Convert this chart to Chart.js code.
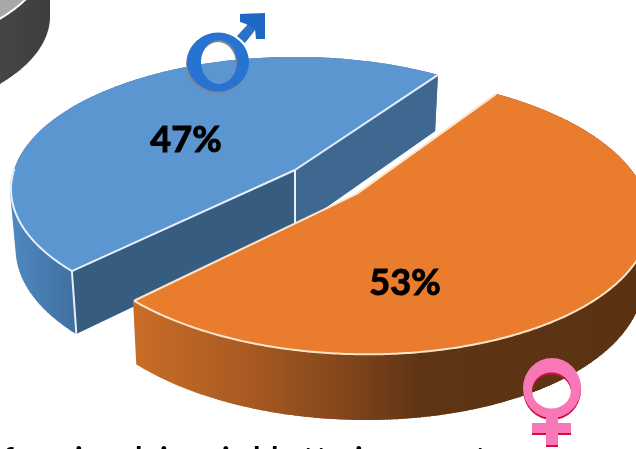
<!DOCTYPE html>
<html>
<head>
<meta charset="utf-8">
<title>Gender split</title>
<script src="https://cdn.jsdelivr.net/npm/chart.js@4"></script>
<style>
    html, body { margin: 0; padding: 0; background: #fff; overflow: hidden; }
    #wrap { position: relative; width: 636px; height: 449px; overflow: hidden; }
    canvas { position: absolute; left: 0; top: 0; }
    svg { position: absolute; left: 0; top: 0; }
</style>
</head>
<body>
<div id="wrap">
    <canvas id="otherPie" width="636" height="449"></canvas>
    <canvas id="genderPie" width="636" height="449"></canvas>
    <svg width="636" height="449" viewBox="0 0 636 449">
        <defs>
            <path id="maleRing" fill-rule="evenodd" d="M187 62a31 29.500 0 1 0 62 0a31 29.500 0 1 0 -62 0zM201 62a18 22 0 1 1 36 0a18 22 0 1 1 -36 0z"/>
            <path id="femaleRing" fill-rule="evenodd" d="M523 388a29 30 0 1 0 58 0a29 30 0 1 0 -58 0zM532 390.500a19.500 18 0 1 1 39 0a19.500 18 0 1 1 -39 0z"/>
        </defs>
        <!-- 남성 기호 -->
        <use href="#maleRing" fill="#7d8796" transform="translate(-1 2)"/>
        <path d="M237 36L250 22L256 29L245 43Z" fill="#2a72c8"/>
        <path d="M240 14L265 13L265 39L256 39L255 29L246 24L240 22Z" fill="#1c68c4"/>
        <use href="#maleRing" fill="#2673d2"/>
        <!-- 여성 기호 -->
        <g fill="#cf0f3c" transform="translate(0 2)">
            <use href="#femaleRing"/>
            <path d="M546 414H558V423H571V433H558V445H546V433H532V423H546Z"/>
        </g>
        <use href="#femaleRing" fill="#f877b6"/>
        <path d="M546 414H558V423H571V433H558V445H546V433H532V423H546Z" fill="#f877b6"/>
    </svg>
</div>
<script>
const genderLabels = ['남성', '여성'];
const genderValues = [47, 53];
const otherValues = [100];
// 아래쪽에서 잘린 캡션: 위쪽 끝만 보이는 글자들
const captionGlyphs = ['f', 'i', 'l', 'i', 'i', 'l', 'l', 't', 't', 'i', 't'];
const captionX = [3, 75, 135, 160, 222, 253, 271, 303, 316, 355, 475];

// 위에서 내려다본 원판을 화면으로 옮기는 투영값
const genderView = { x0: 295, y0: 170, a: 129.5, b: 281, p: 0.145, sx: 0.98, d0: 54, d1: 0.033 };
const otherView = { x0: -181, y0: -48, a: 108, b: 230, p: 0, sx: 1, d0: 65, d1: 0 };

function project(view, X, Y) {
    const w = 1 - view.p * Y;
    return [view.x0 + view.b * X / w, view.y0 + view.a * Y / w];
}

function lowered(view, pt) {
    return [view.x0 + (pt[0] - view.x0) * view.sx, pt[1] + view.d0 + view.d1 * pt[1]];
}

function trace(ctx, pts) {
    ctx.beginPath();
    pts.forEach((pt, i) => (i ? ctx.lineTo(pt[0], pt[1]) : ctx.moveTo(pt[0], pt[1])));
}

function arcPoints(view, ox, oy, from, to, keep) {
    const pts = [];
    const steps = Math.ceil(Math.abs(to - from) / 0.01);
    for (let i = 0; i <= steps; i++) {
        const t = from + (to - from) * i / steps;
        if (!keep || keep(t)) pts.push(project(view, ox + Math.cos(t), oy + Math.sin(t)));
    }
    return pts;
}

function rimGradient(ctx, stops) {
    const g = ctx.createLinearGradient(stops[0][0], 0, stops[stops.length - 1][0], 0);
    const span = stops[stops.length - 1][0] - stops[0][0];
    stops.forEach(s => g.addColorStop((s[0] - stops[0][0]) / span, s[1]));
    return g;
}

// 조각을 Chart.js arc 값에서 읽어 입체로 그린다
const pie3d = {
    id: 'pie3d',
    beforeDatasetsDraw(chart, args, opts) {
        const ctx = chart.ctx;
        const view = opts.view;
        chart.getDatasetMeta(0).data.forEach((el, i) => {
            const look = opts.looks[i];
            const mid = (el.startAngle + el.endAngle) / 2;
            const ox = Math.cos(mid) * el.options.offset / el.outerRadius;
            const oy = Math.sin(mid) * el.options.offset / el.outerRadius;
            const apex = project(view, ox, oy);
            const rim = arcPoints(view, ox, oy, el.startAngle, el.endAngle);
            const front = arcPoints(view, ox, oy, el.startAngle, el.endAngle, t => Math.sin(t) > -0.02);
            const first = rim[0];
            const last = rim[rim.length - 1];

            ctx.save();
            ctx.lineJoin = 'round';

            // 옆면: 위 테두리를 아래로 쓸어내린 모양
            const rimFill = rimGradient(ctx, look.rimStops);
            trace(ctx, rim.concat(rim.map(pt => lowered(view, pt)).reverse()));
            ctx.closePath();
            ctx.fillStyle = rimFill;
            ctx.fill();
            ctx.beginPath();
            front.forEach(pt => {
                const low = lowered(view, pt);
                ctx.moveTo(pt[0], pt[1]);
                ctx.lineTo(low[0], low[1]);
            });
            ctx.strokeStyle = rimFill;
            ctx.lineWidth = 2;
            ctx.stroke();

            // 잘린 면은 앞을 향할 때만 보인다
            if (Math.sin(mid) < 0) {
                [[first, look.faces[0]], [last, look.faces[1]]].forEach(([end, color]) => {
                    trace(ctx, [apex, end, lowered(view, end), lowered(view, apex)]);
                    ctx.closePath();
                    ctx.fillStyle = color;
                    ctx.fill();
                });
            }

            // 윗면
            trace(ctx, [apex].concat(rim));
            ctx.closePath();
            ctx.fillStyle = el.options.backgroundColor;
            ctx.fill();

            // 흰 테두리
            ctx.strokeStyle = look.edge;
            ctx.lineWidth = 2;
            if (front.length) {
                trace(ctx, front);
                ctx.stroke();
            }
            trace(ctx, [first, apex, last]);
            ctx.stroke();
            if (Math.sin(mid) < 0) {
                trace(ctx, [first, lowered(view, first)]);
                ctx.stroke();
                trace(ctx, [apex, lowered(view, apex)]);
                ctx.stroke();
            }
            ctx.restore();
        });
        return false;
    }
};

const genderText = {
    id: 'genderText',
    afterDraw(chart) {
        const ctx = chart.ctx;
        const labelPos = [[186, 140], [405, 283]];
        ctx.save();
        ctx.fillStyle = '#000';
        ctx.strokeStyle = '#000';
        ctx.lineWidth = 1;
        ctx.textAlign = 'center';
        ctx.textBaseline = 'middle';
        ctx.font = 'bold 36px Lato';
        genderValues.forEach((v, i) => {
            ctx.fillText(v + '%', labelPos[i][0], labelPos[i][1]);
            ctx.strokeText(v + '%', labelPos[i][0], labelPos[i][1]);
        });
        ctx.textAlign = 'left';
        ctx.textBaseline = 'alphabetic';
        ctx.font = 'bold 30px Lato';
        captionGlyphs.forEach((ch, i) => ctx.fillText(ch, captionX[i], 469));
        ctx.restore();
    }
};

new Chart(document.getElementById('otherPie'), {
    type: 'pie',
    data: { labels: ['기타'], datasets: [{ data: otherValues, backgroundColor: ['#a8a8a8'], borderWidth: 0 }] },
    options: {
        responsive: false,
        animation: false,
        plugins: {
            legend: { display: false },
            tooltip: { enabled: false },
            pie3d: {
                view: otherView,
                looks: [{ rimStops: [[-20, '#484848'], [60, '#3c3c3c']], faces: ['#444', '#444'], edge: '#fff' }]
            }
        }
    },
    plugins: [pie3d]
});

new Chart(document.getElementById('genderPie'), {
    type: 'pie',
    data: {
        labels: genderLabels,
        datasets: [{
            data: genderValues,
            backgroundColor: ['#5b96d0', '#ea7c2e'],
            borderWidth: 0,
            offset: [0, 55]
        }]
    },
    options: {
        responsive: false,
        animation: false,
        rotation: 225.5,
        plugins: {
            legend: { display: false },
            tooltip: { enabled: false },
            pie3d: {
                view: genderView,
                looks: [
                    {
                        rimStops: [[12, '#5088c1'], [76, '#3f6f9e']],
                        faces: ['#365c7f', '#3e6890'],
                        edge: '#e6f0fa'
                    },
                    {
                        rimStops: [[135, '#c86d28'], [250, '#a85a22'], [320, '#8c4b1d'], [420, '#5f3514'], [640, '#5a3212']],
                        faces: ['#5a3212', '#5a3212'],
                        edge: '#fbe6cd'
                    }
                ]
            }
        }
    },
    plugins: [pie3d, genderText]
});
</script>
</body>
</html>
